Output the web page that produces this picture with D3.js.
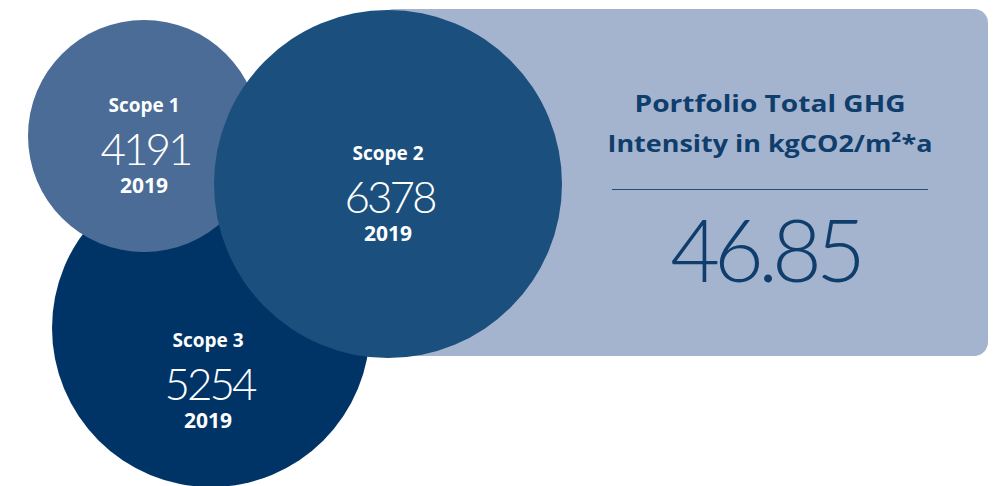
<!DOCTYPE html>
<html>
<head>
<meta charset="utf-8">
<script src="https://cdn.jsdelivr.net/npm/d3@7"></script>
<style>
  html, body { margin: 0; padding: 0; background: #ffffff; }
  svg text { font-family: "Lato", "Open Sans", sans-serif; }
  svg text.bold { font-family: "Open Sans", "Lato", sans-serif; font-weight: 700; }
</style>
</head>
<body>
<div id="chart"></div>
<script>
// ---------------- DATA ----------------
var scopes = ["Scope 1", "Scope 2", "Scope 3"];
var emissions = [4191, 6378, 5254];
var years = ["2019", "2019", "2019"];
var intensityTitle = ["Portfolio Total GHG", "Intensity in kgCO2/m²*a"];
var intensityValue = 46.85;

// ---------------- LAYOUT ----------------
var width = 1001, height = 486;
// bubble placement (cx, cy, r) and text offset from centre
var bubbles = [
  { cx: 144, cy: 136, r: 116, dx: 0,  dy: 0,  fill: "#4a6c96" },
  { cx: 388, cy: 184, r: 174, dx: 0,  dy: 0,  fill: "#1b4f7e" },
  { cx: 211, cy: 328, r: 159, dx: -3, dy: 43, fill: "#003466" }
];
var drawOrder = [2, 0, 1];   // scope 3 at the back, scope 2 on top
var titleWidths = [271, 325];

var svg = d3.select("#chart").append("svg")
    .attr("width", width).attr("height", height);

// ---------------- PANEL ----------------
var panel = svg.append("g");
panel.append("rect")
    .attr("x", 380).attr("y", 9)
    .attr("width", 608).attr("height", 347)
    .attr("rx", 14).attr("ry", 14)
    .style("fill", "#a4b4cf");

panel.selectAll("text.title").data(intensityTitle).enter()
    .append("text")
    .attr("class", "title bold")
    .attr("x", 770)
    .attr("y", (d, i) => 112 + i * 40)
    .attr("text-anchor", "middle")
    .attr("textLength", (d, i) => titleWidths[i])
    .attr("lengthAdjust", "spacingAndGlyphs")
    .style("font-size", "24px")
    .style("fill", "#0f3d6c")
    .text(d => d);

panel.append("line")
    .attr("x1", 612).attr("x2", 928)
    .attr("y1", 189.5).attr("y2", 189.5)
    .style("stroke", "#1b4f7e").style("stroke-width", 1);

panel.append("text")
    .attr("x", 765).attr("y", 282)
    .attr("text-anchor", "middle")
    .style("font-size", "86px")
    .style("font-weight", "300")
    .style("letter-spacing", "-6px")
    .style("fill", "#0f3d6c")
    .text(d3.format(".2f")(intensityValue));

// ---------------- BUBBLES ----------------
var data = scopes.map((s, i) => ({ scope: s, value: emissions[i], year: years[i], pos: bubbles[i] }));

var g = svg.selectAll("g.bubble").data(drawOrder.map(i => data[i])).enter()
    .append("g")
    .attr("class", "bubble")
    .attr("transform", d => `translate(${d.pos.cx},${d.pos.cy})`);

g.append("circle")
    .attr("r", d => d.pos.r)
    .style("fill", d => d.pos.fill);

g.append("text")
    .attr("class", "bold")
    .attr("x", d => d.pos.dx)
    .attr("y", d => d.pos.dy - 24)
    .attr("text-anchor", "middle")
    .style("font-size", "19px")
    .style("fill", "#ffffff")
    .text(d => d.scope);

g.append("text")
    .attr("x", d => d.pos.dx + 1.5)
    .attr("y", d => d.pos.dy + 29)
    .attr("text-anchor", "middle")
    .style("font-size", "44px")
    .style("font-weight", "300")
    .style("letter-spacing", "-3px")
    .style("fill", "#ffffff")
    .text(d => d.value);

g.append("text")
    .attr("class", "bold")
    .attr("x", d => d.pos.dx)
    .attr("y", d => d.pos.dy + 57)
    .attr("text-anchor", "middle")
    .style("font-size", "21px")
    .style("fill", "#ffffff")
    .text(d => d.year);
</script>
</body>
</html>
